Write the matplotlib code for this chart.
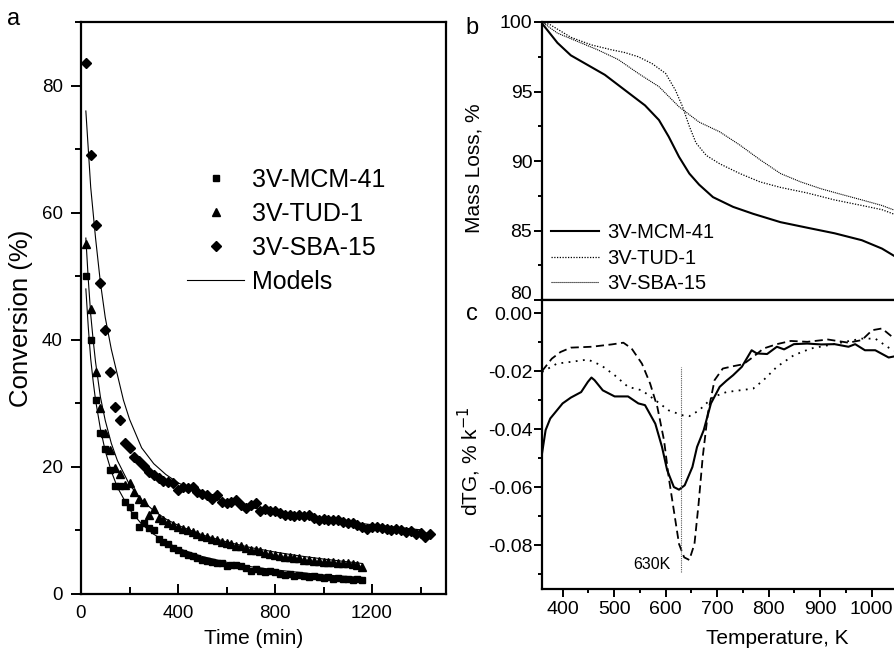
import numpy as np
import matplotlib
matplotlib.use("Agg")
import matplotlib.pyplot as plt
from matplotlib.lines import Line2D
from matplotlib.ticker import MultipleLocator, FormatStrFormatter, FuncFormatter

plt.rcParams["font.family"] = ["Liberation Sans", "DejaVu Sans"]
plt.rcParams["axes.unicode_minus"] = False

# ---- panel a: conversion vs time ----
t_mcm = [20, 40, 60, 80, 100, 120, 140, 160, 180, 200, 220, 240, 260, 280, 300, 320,
         340, 360, 380, 400, 420, 440, 460, 480, 500, 520, 540, 560, 580, 600, 620,
         640, 660, 680, 700, 720, 740, 760, 780, 800, 820, 840, 860, 880, 900, 920,
         940, 960, 980, 1000, 1020, 1040, 1060, 1080, 1100, 1120, 1140, 1160]
c_mcm = [50.0, 40.0, 30.5, 25.4, 22.8, 19.5, 17.0, 17.0, 14.5, 13.7, 12.4, 10.6, 11.1,
         10.4, 10.1, 8.6, 8.2, 7.8, 7.3, 6.9, 6.4, 6.2, 6.0, 5.7, 5.4, 5.2, 5.0, 4.9,
         4.9, 4.4, 4.6, 4.6, 4.4, 4.1, 3.6, 3.9, 3.6, 3.4, 3.6, 3.4, 3.1, 3.0, 3.1,
         2.9, 3.0, 2.8, 2.7, 2.9, 2.6, 2.5, 2.7, 2.4, 2.5, 2.3, 2.4, 2.2, 2.3, 2.2]

t_tud = t_mcm
c_tud = [55.0, 44.9, 35.0, 29.2, 25.3, 22.6, 19.8, 18.9, 17.1, 17.5, 16.0, 15.0, 14.5,
         12.5, 13.4, 12.0, 11.6, 11.2, 10.9, 10.5, 10.2, 10.0, 9.7, 9.5, 9.2, 9.0, 8.7,
         8.5, 8.2, 8.0, 7.9, 7.6, 7.5, 7.2, 7.0, 7.0, 6.7, 6.5, 6.3, 6.2, 6.0, 5.9,
         5.8, 5.6, 5.6, 5.4, 5.4, 5.2, 5.2, 5.1, 5.0, 5.0, 4.9, 4.8, 4.8, 4.7, 4.6, 4.3]

t_sba = t_mcm + [1180, 1200, 1220, 1240, 1260, 1280, 1300, 1320, 1340, 1360, 1380,
                 1400, 1420, 1440]
c_sba = [83.5, 69.0, 58.0, 49.0, 41.5, 34.9, 29.5, 27.3, 23.7, 23.0, 21.6, 21.0, 20.2,
         19.2, 18.7, 18.2, 17.8, 17.6, 17.4, 16.4, 16.9, 16.6, 16.9, 16.1, 15.8, 15.6,
         15.0, 15.6, 14.5, 14.3, 14.5, 14.8, 14.0, 13.5, 14.0, 14.3, 13.0, 13.3, 13.0,
         13.1, 12.7, 12.5, 12.5, 12.2, 12.4, 12.2, 12.4, 12.0, 11.6, 11.8, 11.7, 11.6,
         11.6, 11.4, 11.2, 11.1, 10.8, 10.6, 10.3, 10.5, 10.6, 10.4, 10.2, 10.1, 10.2,
         10.0, 9.8, 9.9, 9.5, 9.6, 9.0, 9.5]

# model curves
tm_mcm = [20, 30, 40, 50, 60, 80, 100, 125, 150, 200, 250, 300, 350, 400, 500, 600,
          700, 800, 900, 1000, 1160]
cm_mcm = [48.0, 42.0, 37.0, 33.5, 30.5, 26.0, 22.5, 19.3, 16.8, 13.3, 11.0, 9.4, 8.2,
          7.2, 5.9, 5.0, 4.3, 3.8, 3.4, 3.0, 2.6]
tm_tud = tm_mcm
cm_tud = [56.0, 49.5, 44.0, 40.0, 36.5, 31.0, 27.3, 23.7, 21.0, 17.2, 14.8, 13.1, 11.8,
          10.8, 9.3, 8.2, 7.3, 6.6, 6.0, 5.5, 4.8]
tm_sba = [20, 30, 40, 50, 60, 80, 100, 125, 150, 175, 200, 250, 300, 350, 400, 500,
          600, 700, 800, 1000, 1200, 1400]
cm_sba = [76.0, 70.0, 64.0, 60.0, 56.0, 49.0, 43.5, 38.5, 34.5, 30.5, 27.5, 23.0, 20.5,
          18.8, 17.5, 15.7, 14.5, 13.6, 12.9, 11.8, 10.9, 10.1]

# ---- panel b: TG mass loss ----
tb_mcm = [360, 390, 416, 449, 482, 521, 560, 587, 606, 626, 646, 665, 692, 731, 770,
          823, 875, 928, 981, 1020, 1056, 1100]
mb_mcm = [99.9, 98.5, 97.6, 96.9, 96.2, 95.1, 94.0, 92.95, 91.75, 90.3, 89.1, 88.3,
          87.4, 86.7, 86.2, 85.6, 85.2, 84.8, 84.3, 83.7, 82.9, 82.3]
tb_tud = [360, 376, 416, 456, 495, 521, 547, 574, 600, 619, 633, 646, 659, 679, 705,
          744, 783, 823, 875, 928, 981, 1020, 1056, 1100]
mb_tud = [100.0, 99.8, 98.9, 98.35, 98.0, 97.8, 97.5, 97.0, 96.3, 95.1, 93.9, 92.5,
          91.3, 90.4, 89.8, 89.1, 88.5, 88.1, 87.7, 87.2, 86.8, 86.5, 86.0, 85.6]
tb_sba = [360, 390, 429, 468, 508, 547, 587, 626, 665, 705, 744, 783, 823, 862, 902,
          941, 981, 1020, 1056, 1100]
mb_sba = [100.0, 99.2, 98.6, 98.0, 97.3, 96.3, 95.35, 93.9, 92.8, 92.1, 91.15, 90.1,
          89.1, 88.5, 88.0, 87.6, 87.2, 86.8, 86.3, 85.9]

# ---- panel c: dTG ----
tc_mcm = [360, 367, 376, 400, 416, 436, 449, 456, 462, 478, 501, 527, 547, 560, 580,
          593, 603, 616, 626, 637, 652, 661, 674, 688, 705, 718, 731, 748, 767, 777,
          797, 816, 830, 849, 875, 902, 928, 955, 968, 987, 1007, 1033, 1056, 1080]
dc_mcm = [-0.0484, -0.0403, -0.0363, -0.0311, -0.0291, -0.0272, -0.0237, -0.0222,
          -0.0231, -0.0266, -0.0287, -0.0287, -0.0311, -0.0317, -0.0381, -0.0461,
          -0.0541, -0.0599, -0.0608, -0.0593, -0.0530, -0.0461, -0.0403, -0.0311,
          -0.0254, -0.0233, -0.0214, -0.0185, -0.0128, -0.0139, -0.0141, -0.0116,
          -0.0125, -0.0107, -0.0105, -0.0108, -0.0107, -0.0116, -0.0107, -0.0128,
          -0.0128, -0.0153, -0.0145, -0.0140]
tc_tud = [360, 379, 396, 416, 456, 495, 518, 534, 554, 570, 584, 597, 606, 616, 626,
          636, 646, 656, 664, 672, 682, 695, 711, 731, 751, 770, 790, 816, 843, 875,
          915, 955, 981, 1001, 1020, 1040, 1056, 1080]
dc_tud = [-0.0200, -0.0157, -0.0134, -0.0119, -0.0116, -0.0108, -0.0102, -0.0122,
          -0.0174, -0.0243, -0.0324, -0.0439, -0.0565, -0.0680, -0.0795, -0.0841,
          -0.0850, -0.0795, -0.0657, -0.0496, -0.0346, -0.0231, -0.0191, -0.0183,
          -0.0176, -0.0151, -0.0122, -0.0107, -0.0096, -0.0099, -0.0091, -0.0102,
          -0.0093, -0.0059, -0.0053, -0.0082, -0.0111, -0.0120]
tc_sba = [360, 389, 416, 449, 475, 501, 527, 554, 580, 606, 633, 646, 665, 692, 718,
          744, 770, 790, 816, 849, 882, 915, 948, 981, 1007, 1033, 1056, 1080]
dc_sba = [-0.0203, -0.0174, -0.0168, -0.0160, -0.0180, -0.0214, -0.0254, -0.0266,
          -0.0300, -0.0335, -0.0352, -0.0355, -0.0335, -0.0289, -0.0272, -0.0266,
          -0.0260, -0.0231, -0.0185, -0.0145, -0.0122, -0.0111, -0.0099, -0.0088,
          -0.0088, -0.0119, -0.0139, -0.0150]

PEAK_T = 630
PEAK_SPAN = (-0.0893, -0.0186)
LABELS = ["3V-MCM-41", "3V-TUD-1", "3V-SBA-15"]

W, H = 895, 652
fig = plt.figure(figsize=(W / 100, H / 100), dpi=100)


def box(x0, y0, x1, y1):
    # pixel box (top-left origin) -> figure fraction rect
    return [x0 / W, 1 - y1 / H, (x1 - x0) / W, (y1 - y0) / H]


def style_axes(ax):
    for s in ax.spines.values():
        s.set_linewidth(1.6)


# ---------------- panel a ----------------
ax = fig.add_axes(box(81, 22, 446, 594))
style_axes(ax)
ax.plot(tm_mcm, cm_mcm, color="black", lw=0.8)
ax.plot(tm_tud, cm_tud, color="black", lw=0.8)
ax.plot(tm_sba, cm_sba, color="black", lw=0.8)
ax.plot(t_mcm, c_mcm, "s", color="black", ms=5, ls="none")
ax.plot(t_tud, c_tud, "^", color="black", ms=6, ls="none")
ax.plot(t_sba, c_sba, "D", color="black", ms=5, ls="none")
ax.set_xlim(0, 1505)
ax.set_ylim(0, 90)
ax.xaxis.set_major_locator(MultipleLocator(400))
ax.xaxis.set_minor_locator(MultipleLocator(200))
ax.yaxis.set_major_locator(MultipleLocator(20))
ax.yaxis.set_minor_locator(MultipleLocator(10))
ax.tick_params(axis="x", which="both", direction="in", width=1.4, labelsize=13.5, pad=8)
ax.tick_params(axis="x", which="major", length=7)
ax.tick_params(axis="x", which="minor", length=5)
ax.tick_params(axis="y", which="both", direction="out", width=1.4, labelsize=13.5, pad=6)
ax.tick_params(axis="y", which="major", length=7)
ax.tick_params(axis="y", which="minor", length=4)
ax.set_xlabel("Time (min)", fontsize=15)
ax.set_ylabel("Conversion (%)", fontsize=18.5)
ax.xaxis.set_label_coords((254 - 81) / 365, (594 - 629) / 572)
ax.yaxis.set_label_coords((33 - 81) / 365, (594 - 318) / 572)
handles = [Line2D([], [], marker="s", color="black", ms=5, ls="none"),
           Line2D([], [], marker="^", color="black", ms=6, ls="none"),
           Line2D([], [], marker="D", color="black", ms=5, ls="none"),
           Line2D([], [], color="black", lw=0.8)]
ax.legend(handles, LABELS + ["Models"], loc="upper left", frameon=False,
          bbox_to_anchor=(187 / W, 1 - 168 / H), bbox_transform=fig.transFigure,
          fontsize=18, handlelength=2.3, handletextpad=0.3, labelspacing=0.4,
          borderpad=0, borderaxespad=0)
fig.text(14 / W, 1 - 19 / H, "a", fontsize=17, ha="center", va="center")

# ---------------- panel b ----------------
axb = fig.add_axes(box(542, 22, 918, 300))
axc = fig.add_axes(box(542, 300, 918, 589), sharex=axb)
for a in (axb, axc):
    style_axes(a)

axb.plot(tb_mcm, mb_mcm, color="black", lw=1.5, label=LABELS[0])
axb.plot(tb_tud, mb_tud, color="black", lw=0.9, ls=(0, (1, 1.2)), label=LABELS[1])
axb.plot(tb_sba, mb_sba, color="black", lw=0.8, ls=(0, (1, 0.8)), label=LABELS[2])
axb.set_ylim(80, 100)
axb.yaxis.set_major_locator(MultipleLocator(5))
axb.yaxis.set_minor_locator(MultipleLocator(2.5))
# the bottom "80" sits a little higher, clear of the "0.00" of panel c
axb.yaxis.set_major_formatter(FuncFormatter(lambda v, p: "" if v <= 80 else f"{v:.0f}"))
axb.annotate("80", xy=(0, 80), xycoords=("axes fraction", "data"),
             xytext=(-7, 4), textcoords="offset points", ha="right", va="center",
             fontsize=14)
axb.tick_params(axis="x", which="both", bottom=False, labelbottom=False)
axb.tick_params(axis="y", which="both", direction="out", width=1.4, labelsize=14, pad=1)
axb.tick_params(axis="y", which="major", length=6)
axb.tick_params(axis="y", which="minor", length=3)
axb.set_ylabel("Mass Loss, %", fontsize=15)
axb.yaxis.set_label_coords((483 - 542) / 376, (300 - 168) / 278)
axb.legend(loc="upper left", frameon=False,
           bbox_to_anchor=(551 / W, 1 - 223 / H), bbox_transform=fig.transFigure,
           fontsize=14.5, handlelength=2.4, handletextpad=0.4, labelspacing=0.33,
           borderpad=0, borderaxespad=0)
fig.text(472 / W, 1 - 28 / H, "b", fontsize=17, ha="center", va="center")

# ---------------- panel c ----------------
axc.plot(tc_mcm, dc_mcm, color="black", lw=1.5)
axc.plot(tc_tud, dc_tud, color="black", lw=1.3, ls=(0, (4.5, 2.5)))
axc.plot(tc_sba, dc_sba, color="black", lw=1.3, ls=(0, (1, 3)))
axc.vlines(PEAK_T, *PEAK_SPAN, color="0.35", lw=0.8, ls=(0, (1, 1)))
axc.text(PEAK_T - 21, PEAK_SPAN[0], "630K", fontsize=11.5, ha="right", va="bottom")
axc.set_xlim(360, 1090)
axc.set_ylim(-0.095, 0.0045)
axc.xaxis.set_major_locator(MultipleLocator(100))
axc.xaxis.set_minor_locator(MultipleLocator(50))
axc.yaxis.set_major_locator(MultipleLocator(0.02))
axc.yaxis.set_minor_locator(MultipleLocator(0.01))
axc.yaxis.set_major_formatter(FormatStrFormatter("%.2f"))
axc.tick_params(axis="both", which="both", direction="out", width=1.4, labelsize=14)
axc.tick_params(axis="both", which="major", length=6)
axc.tick_params(axis="both", which="minor", length=3)
axc.tick_params(axis="y", pad=1)
axc.tick_params(axis="x", pad=3)
axc.set_xlabel("Temperature, K", fontsize=15)
axc.xaxis.set_label_coords((777 - 542) / 376, (589 - 629) / 289)
axc.set_ylabel("dTG, % k$^{-1}$", fontsize=15)
axc.yaxis.set_label_coords((483 - 542) / 376, (589 - 461) / 289)
fig.text(472 / W, 1 - 314 / H, "c", fontsize=17, ha="center", va="center")

fig.savefig("out.png", dpi=100)
